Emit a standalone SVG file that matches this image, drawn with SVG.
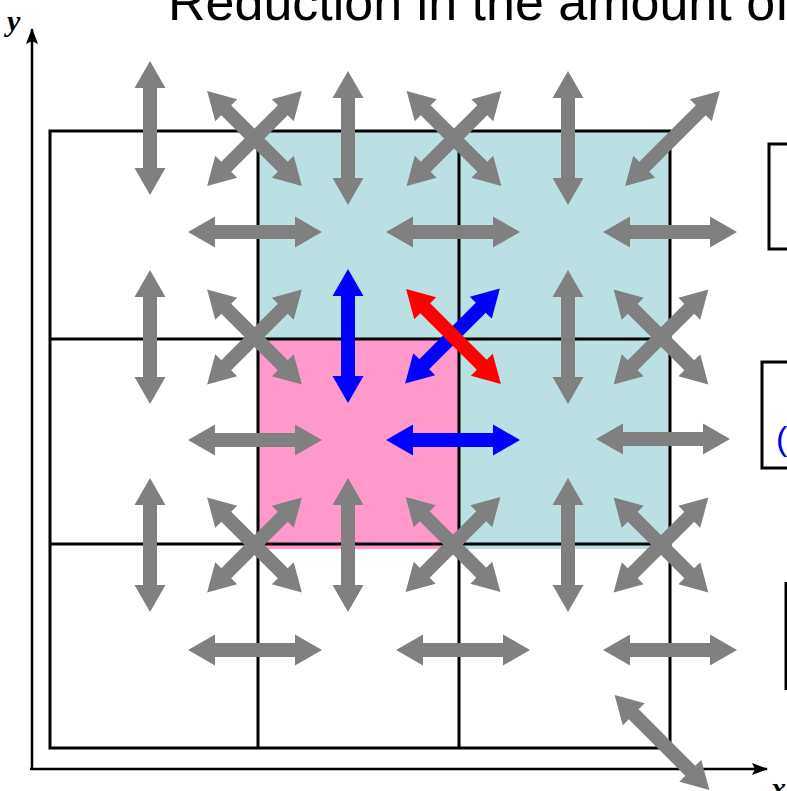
<svg xmlns="http://www.w3.org/2000/svg" xmlns:xlink="http://www.w3.org/1999/xlink" width="787" height="791" viewBox="0 0 787 791">
<style>
.grid{fill:none;stroke:#000;stroke-width:3}
.g{fill:#808080}
.b{fill:#0000FF}
.r{fill:#FF0000}
.ax{stroke:#000;stroke-width:2.5;fill:none}
.lbl{font-family:"Liberation Serif",serif;font-style:italic;font-weight:bold;font-size:30px}
.title{font-family:"Liberation Sans",Arial,sans-serif;font-size:52px;fill:#000}
.box{fill:none;stroke:#000;stroke-width:3}
</style>
<defs>
<path id="arr" d="M-67,0 L-40,-15.5 L-40,-7 L40,-7 L40,-15.5 L67,0 L40,15.5 L40,7 L-40,7 L-40,15.5 Z"/>
<marker id="ah" viewBox="0 0 16 12" refX="15" refY="6" markerWidth="16" markerHeight="12" markerUnits="userSpaceOnUse" orient="auto">
<path d="M0,0 L16,6 L0,12 L3,6 Z" fill="#000"/>
</marker>
</defs>
<g id="title"><text class="title" x="168" y="20">Reduction in the amount of</text></g>
<g id="fills">
<rect x="258" y="131" width="412" height="418" fill="#BBE0E3"/>
<rect x="258" y="339" width="201" height="210" fill="#FF99CC"/>
</g>
<g id="grid">
<rect class="grid" x="50" y="131" width="620" height="617"/>
<line class="grid" x1="258" y1="131" x2="258" y2="748"/>
<line class="grid" x1="459" y1="131" x2="459" y2="748"/>
<line class="grid" x1="50" y1="339" x2="670" y2="339"/>
<line class="grid" x1="50" y1="544" x2="670" y2="544"/>
</g>
<g id="axes">
<line class="ax" x1="32" y1="770" x2="32" y2="29" marker-end="url(#ah)"/>
<line class="ax" x1="30" y1="769" x2="767" y2="769" marker-end="url(#ah)"/>
<text class="lbl" x="7" y="31">y</text>
<text class="lbl" x="771" y="798">x</text>
</g>
<g id="boxes">
<rect class="box" x="769" y="144" width="60" height="105"/>
<rect class="box" x="762" y="362" width="60" height="106"/>
<text x="776" y="450" font-family="Liberation Sans, Arial, sans-serif" font-size="34" fill="#0000FF">(</text>
<line class="box" x1="786" y1="582" x2="786" y2="690"/>
</g>
<g id="connectors">
<use href="#arr" class="g" transform="translate(150,128) rotate(90)"/>
<use href="#arr" class="g" transform="translate(348,138) rotate(90)"/>
<use href="#arr" class="g" transform="translate(568,138) rotate(90)"/>
<use href="#arr" class="g" transform="translate(150,337) rotate(90)"/>
<use href="#arr" class="b" transform="translate(348,336) rotate(90)"/>
<use href="#arr" class="g" transform="translate(568,337) rotate(90)"/>
<use href="#arr" class="g" transform="translate(150,545) rotate(90)"/>
<use href="#arr" class="g" transform="translate(348,545) rotate(90)"/>
<use href="#arr" class="g" transform="translate(568,545) rotate(90)"/>
<use href="#arr" class="g" transform="translate(255,232)"/>
<use href="#arr" class="g" transform="translate(453,232)"/>
<use href="#arr" class="g" transform="translate(670,232)"/>
<use href="#arr" class="g" transform="translate(255,440)"/>
<use href="#arr" class="b" transform="translate(453,440)"/>
<use href="#arr" class="g" transform="translate(663,439)"/>
<use href="#arr" class="g" transform="translate(255,650)"/>
<use href="#arr" class="g" transform="translate(463,650)"/>
<use href="#arr" class="g" transform="translate(670,650)"/>
<use href="#arr" class="g" transform="translate(254.5,138.5) rotate(45)"/>
<use href="#arr" class="g" transform="translate(254.5,138.5) rotate(-45)"/>
<use href="#arr" class="g" transform="translate(454,138.5) rotate(45)"/>
<use href="#arr" class="g" transform="translate(454,138.5) rotate(-45)"/>
<use href="#arr" class="g" transform="translate(672.5,138.5) rotate(-45)"/>
<use href="#arr" class="g" transform="translate(254.5,337) rotate(45)"/>
<use href="#arr" class="g" transform="translate(254.5,337) rotate(-45)"/>
<use href="#arr" class="b" transform="translate(452.5,336) rotate(-45)"/>
<use href="#arr" class="r" transform="translate(453.5,336.5) rotate(45)"/>
<use href="#arr" class="g" transform="translate(661,337) rotate(45)"/>
<use href="#arr" class="g" transform="translate(661,337) rotate(-45)"/>
<use href="#arr" class="g" transform="translate(254.5,545) rotate(45)"/>
<use href="#arr" class="g" transform="translate(254.5,545) rotate(-45)"/>
<use href="#arr" class="g" transform="translate(453,544.5) rotate(45)"/>
<use href="#arr" class="g" transform="translate(453,544.5) rotate(-45)"/>
<use href="#arr" class="g" transform="translate(661,545) rotate(45)"/>
<use href="#arr" class="g" transform="translate(661,545) rotate(-45)"/>
<use href="#arr" class="g" transform="translate(662,742.5) rotate(45)"/>
</g>
</svg>
